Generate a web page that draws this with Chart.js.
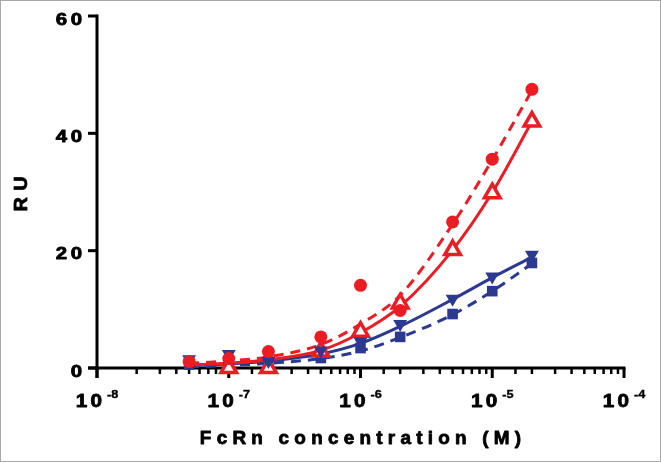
<!DOCTYPE html>
<html>
<head>
<meta charset="utf-8">
<script src="https://cdn.jsdelivr.net/npm/chart.js@4/dist/chart.umd.min.js"></script>
<style>
  html, body { margin: 0; padding: 0; background: #ffffff; }
  #wrap { width: 661px; height: 462px; position: relative; }
</style>
</head>
<body>
<div id="wrap"><canvas id="c" width="661" height="462"></canvas></div>
<script>
// ---- data ----
const concentrations = [5e-8, 1e-7, 2e-7, 5e-7, 1e-6, 2e-6, 5e-6, 1e-5, 2e-5];

// measured points
const redCircles     = [1.1, 1.6, 2.8, 5.3, 14.1, 9.8, 24.9, 35.6, 47.5];
const redTriangles   = [null, 0.0, 0.0, 2.8, 6.2, 11.0, 20.1, 29.8, 42.0];
const blueDownTris   = [1.5, 2.4, 1.2, 3.0, 4.5, 7.5, 11.8, 15.6, 19.3];
const blueSquares    = [0.6, 0.2, 1.1, 1.7, 3.4, 5.3, 9.2, 13.1, 17.9];

// fitted curves, read at the same concentrations
const redDashedFit   = [0.8, 1.2, 1.9, 4.0, 7.5, 12.4, 24.5, 35.5, 47.3];
const redSolidFit    = [0.5, 0.8, 1.4, 3.0, 6.0, 10.5, 20.1, 29.9, 42.0];
const blueSolidFit   = [0.4, 0.7, 1.2, 2.4, 4.2, 7.1, 11.7, 15.4, 18.9];
const blueDashedFit  = [0.2, 0.4, 0.8, 1.6, 2.9, 5.2, 9.1, 13.1, 17.8];

const yTicks = [0, 20, 40, 60];
const xDecadeExponents = ['-8', '-7', '-6', '-5', '-4'];
const xTitle = 'FcRn concentration (M)';
const yTitle = 'RU';

const RED = '#ec1c24';
const BLUE = '#2b3990';
const FONT = '"Liberation Sans", Arial, sans-serif';

function pts(vals) {
  return concentrations.map((c, i) => ({ x: c, y: vals[i] })).filter(p => p.y !== null);
}

function curve(vals, color, dashed, order) {
  return {
    type: 'line', data: pts(vals), borderColor: color, borderWidth: 3,
    borderDash: dashed ? [10, 7] : [], pointRadius: 0, fill: false,
    cubicInterpolationMode: 'monotone', order: order, clip: false
  };
}
function marks(vals, color, style, radius, opts, order) {
  return Object.assign({
    type: 'scatter', data: pts(vals), pointStyle: style, pointRadius: radius,
    pointHoverRadius: radius, backgroundColor: color, borderColor: color,
    borderWidth: 0, showLine: false, order: order, clip: false
  }, opts || {});
}

function stretchedText(ctx, text, x, y, align, sx, spacing, heavy) {
  ctx.save();
  ctx.letterSpacing = (spacing || 0) + 'px';
  const w = ctx.measureText(text).width - (spacing || 0);
  let left = x;
  if (align === 'center') left = x - w * sx / 2;
  else if (align === 'right') left = x - w * sx;
  ctx.translate(left, y);
  ctx.scale(sx, 1);
  ctx.textAlign = 'left';
  ctx.fillText(text, 0, 0);
  if (heavy) {
    ctx.lineWidth = heavy;
    ctx.lineJoin = 'round';
    ctx.strokeText(text, 0, 0);
  }
  ctx.restore();
  return w * sx;
}

const axesPlugin = {
  id: 'axesPlugin',
  beforeDatasetsDraw(chart) {
    const ctx = chart.ctx;
    const xs = chart.scales.x, ys = chart.scales.y;
    const area = chart.chartArea;
    ctx.save();
    ctx.strokeStyle = '#000';
    ctx.lineCap = 'butt';
    ctx.lineWidth = 3;
    ctx.beginPath();
    ctx.moveTo(area.left, area.top - 1.5);
    ctx.lineTo(area.left, area.bottom + 10);
    ctx.stroke();
    ctx.beginPath();
    ctx.moveTo(area.left - 9, area.bottom);
    ctx.lineTo(area.right + 1.5, area.bottom);
    ctx.stroke();
    yTicks.forEach(v => {
      const py = ys.getPixelForValue(v);
      ctx.beginPath();
      ctx.moveTo(area.left - 9, py);
      ctx.lineTo(area.left, py);
      ctx.stroke();
    });
    xs.ticks.forEach(t => {
      const v = t.value;
      const px = xs.getPixelForValue(v);
      const e = Math.log10(v);
      const major = Math.abs(e - Math.round(e)) < 1e-6;
      ctx.lineWidth = major ? 3 : 2.5;
      ctx.beginPath();
      ctx.moveTo(px, area.bottom);
      ctx.lineTo(px, area.bottom + (major ? 10 : 6));
      ctx.stroke();
    });
    ctx.restore();
  },
  afterDraw(chart) {
    const ctx = chart.ctx;
    const xs = chart.scales.x, ys = chart.scales.y;
    const area = chart.chartArea;
    ctx.save();
    ctx.fillStyle = '#000';
    ctx.strokeStyle = '#000';
    ctx.textBaseline = 'alphabetic';
    // y tick labels
    ctx.font = 'bold 17px ' + FONT;
    yTicks.forEach(v => {
      const py = ys.getPixelForValue(v);
      stretchedText(ctx, String(v), area.left - 15, py + 8.5, 'right', 1.2, 3, 0.8);
    });
    // x tick labels: 10 with superscript exponent
    xDecadeExponents.forEach(ex => {
      const val = Math.pow(10, Number(ex));
      const px = xs.getPixelForValue(val);
      ctx.font = 'bold 18px ' + FONT;
      ctx.letterSpacing = '3px';
      const wBase = (ctx.measureText('10').width - 3) * 1.15;
      ctx.font = 'bold 11px ' + FONT;
      ctx.letterSpacing = '0px';
      const wSup = ctx.measureText(ex).width * 1.15;
      const gap = 5;
      const total = wBase + gap + wSup;
      const left = px - total / 2;
      ctx.font = 'bold 18px ' + FONT;
      stretchedText(ctx, '10', left, 407, 'left', 1.15, 3, 0.8);
      ctx.font = 'bold 11px ' + FONT;
      stretchedText(ctx, ex, left + wBase + gap, 398, 'left', 1.15, 0, 0.4);
    });
    // x title
    ctx.font = 'bold 18px ' + FONT;
    stretchedText(ctx, xTitle, (area.left + area.right) / 2, 444, 'center', 1.05, 5, 0.8);
    // y title (rotated)
    ctx.save();
    ctx.translate(27, 194);
    ctx.rotate(-Math.PI / 2);
    ctx.font = 'bold 19px ' + FONT;
    stretchedText(ctx, yTitle, 0, 0, 'center', 1.05, 6, 0.8);
    ctx.restore();
    // outer frame
    ctx.strokeStyle = '#a8a8a8';
    ctx.lineWidth = 1;
    ctx.strokeRect(0.5, 0.5, chart.width - 1, chart.height - 1);
    ctx.restore();
  }
};

new Chart(document.getElementById('c'), {
  type: 'scatter',
  data: {
    datasets: [
      curve(blueDashedFit, BLUE, true, 9),
      curve(blueSolidFit, BLUE, false, 8),
      curve(redSolidFit, RED, false, 7),
      curve(redDashedFit, RED, true, 6),
      marks(blueSquares, BLUE, 'rect', 7.5, null, 5),
      marks(redTriangles, '#ffffff', 'triangle', 9, { borderColor: RED, borderWidth: 3.5 }, 4),
      marks(blueDownTris, BLUE, 'triangle', 8, { rotation: 180 }, 3),
      marks(redCircles, RED, 'circle', 6.5, null, 2)
    ]
  },
  options: {
    responsive: false,
    animation: false,
    events: [],
    layout: { padding: { left: 0, top: 16, right: 37, bottom: 0 } },
    plugins: { legend: { display: false }, tooltip: { enabled: false } },
    scales: {
      x: {
        type: 'logarithmic', min: 1e-8, max: 1e-4,
        grid: { display: false, drawTicks: false },
        border: { display: false },
        ticks: { display: false },
        afterFit(s) { s.height = 94; }
      },
      y: {
        type: 'linear', min: 0, max: 60,
        grid: { display: false, drawTicks: false },
        border: { display: false },
        ticks: { display: false, stepSize: 20 },
        afterFit(s) { s.width = 97; }
      }
    }
  },
  plugins: [axesPlugin]
});
</script>
</body>
</html>
